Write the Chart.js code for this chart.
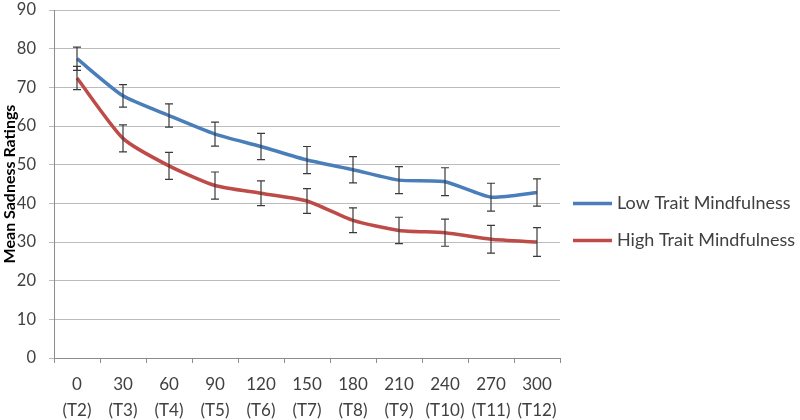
<!DOCTYPE html>
<html>
<head>
<meta charset="utf-8">
<script src="https://cdn.jsdelivr.net/npm/chart.js@4"></script>
<style>
  html, body { margin: 0; padding: 0; background: #fff; }
  #wrap { width: 800px; height: 420px; }
</style>
</head>
<body>
<div id="wrap"><canvas id="sadnessChart" width="800" height="420"></canvas></div>
<script>
// values
const timeLabels = [
    ["0", "(T2)"], ["30", "(T3)"], ["60", "(T4)"], ["90", "(T5)"], ["120", "(T6)"], ["150", "(T7)"],
    ["180", "(T8)"], ["210", "(T9)"], ["240", "(T10)"], ["270", "(T11)"], ["300", "(T12)"],
];
const lowTrait = [77.4, 67.8, 62.7, 57.9, 54.7, 51.2, 48.7, 46.0, 45.6, 41.6, 42.8];
const lowTraitErr = [3.0, 2.9, 3.0, 3.1, 3.4, 3.5, 3.4, 3.5, 3.6, 3.6, 3.5];
const highTrait = [72.4, 56.8, 49.7, 44.6, 42.6, 40.6, 35.6, 33.0, 32.4, 30.7, 30.0];
const highTraitErr = [3.0, 3.5, 3.5, 3.5, 3.2, 3.2, 3.2, 3.4, 3.5, 3.6, 3.7];
const seriesNames = ["Low Trait Mindfulness", "High Trait Mindfulness"];

const textColor = "#404040";
const fontFamily = "Lato, 'Open Sans', sans-serif";

// error bars, drawn on top of the lines
const errorBars = {
    id: "errorBars",
    afterDatasetsDraw(chart) {
        const { ctx } = chart;
        const yScale = chart.scales.y;
        ctx.save();
        ctx.strokeStyle = "#3a3a3a";
        ctx.lineWidth = 1.2;
        chart.data.datasets.forEach((ds, i) => {
            const meta = chart.getDatasetMeta(i);
            meta.data.forEach((pt, j) => {
                const err = ds.errors[j];
                const top = yScale.getPixelForValue(ds.data[j] + err);
                const bottom = yScale.getPixelForValue(ds.data[j] - err);
                ctx.beginPath();
                ctx.moveTo(pt.x, top);
                ctx.lineTo(pt.x, bottom);
                ctx.moveTo(pt.x - 4, top);
                ctx.lineTo(pt.x + 4, top);
                ctx.moveTo(pt.x - 4, bottom);
                ctx.lineTo(pt.x + 4, bottom);
                ctx.stroke();
            });
        });
        ctx.restore();
    },
};

// legend to the right of the plot, like the original
const sideLegend = {
    id: "sideLegend",
    afterDraw(chart) {
        const { ctx, chartArea } = chart;
        const x0 = chartArea.right + 13;
        const midY = (chartArea.top + chartArea.bottom) / 2 + 38;
        ctx.save();
        ctx.font = "18px " + fontFamily;
        ctx.textBaseline = "middle";
        chart.data.datasets.forEach((ds, i) => {
            const y = midY + (i === 0 ? -18.5 : 18.5);
            ctx.strokeStyle = ds.borderColor;
            ctx.lineWidth = 3.5;
            ctx.beginPath();
            ctx.moveTo(x0, y);
            ctx.lineTo(x0 + 39, y);
            ctx.stroke();
            ctx.fillStyle = textColor;
            ctx.fillText(ds.label, x0 + 44, y);
        });
        ctx.restore();
    },
};

new Chart(document.getElementById("sadnessChart"), {
    type: "line",
    data: {
        labels: timeLabels,
        datasets: [
            {
                label: seriesNames[0],
                data: lowTrait,
                errors: lowTraitErr,
                borderColor: "#4a7ebb",
                borderWidth: 3.5,
                pointRadius: 0,
                tension: 0.2,
            },
            {
                label: seriesNames[1],
                data: highTrait,
                errors: highTraitErr,
                borderColor: "#be4b48",
                borderWidth: 3.5,
                pointRadius: 0,
                tension: 0.2,
            },
        ],
    },
    options: {
        responsive: false,
        animation: false,
        layout: { padding: { top: 0, right: 240, bottom: 0, left: 0 } },
        plugins: {
            legend: { display: false },
            tooltip: { enabled: false },
        },
        scales: {
            x: {
                offset: true,
                grid: { offset: true, drawOnChartArea: false, tickLength: 5, color: "#8c8c8c" },
                border: { color: "#8c8c8c" },
                ticks: {
                    color: textColor,
                    font: { family: fontFamily, size: 17, lineHeight: 1.5 },
                    padding: 9,
                    maxRotation: 0,
                    autoSkip: false,
                },
                afterFit(scale) { scale.height = 62; },
            },
            y: {
                min: 0,
                max: 90,
                ticks: {
                    stepSize: 10,
                    color: textColor,
                    font: { family: fontFamily, size: 16.5 },
                    padding: 13,
                },
                grid: { color: "#bcbcbc", tickLength: 5 },
                border: { color: "#8c8c8c" },
                title: {
                    display: true,
                    text: "Mean Sadness Ratings",
                    color: "#000",
                    font: { family: fontFamily, size: 16, weight: "bold" },
                    padding: 0,
                },
                afterFit(scale) {
                    scale.width = 54;
                    scale.paddingTop = 10;
                },
            },
        },
    },
    plugins: [errorBars, sideLegend],
});
</script>
</body>
</html>
